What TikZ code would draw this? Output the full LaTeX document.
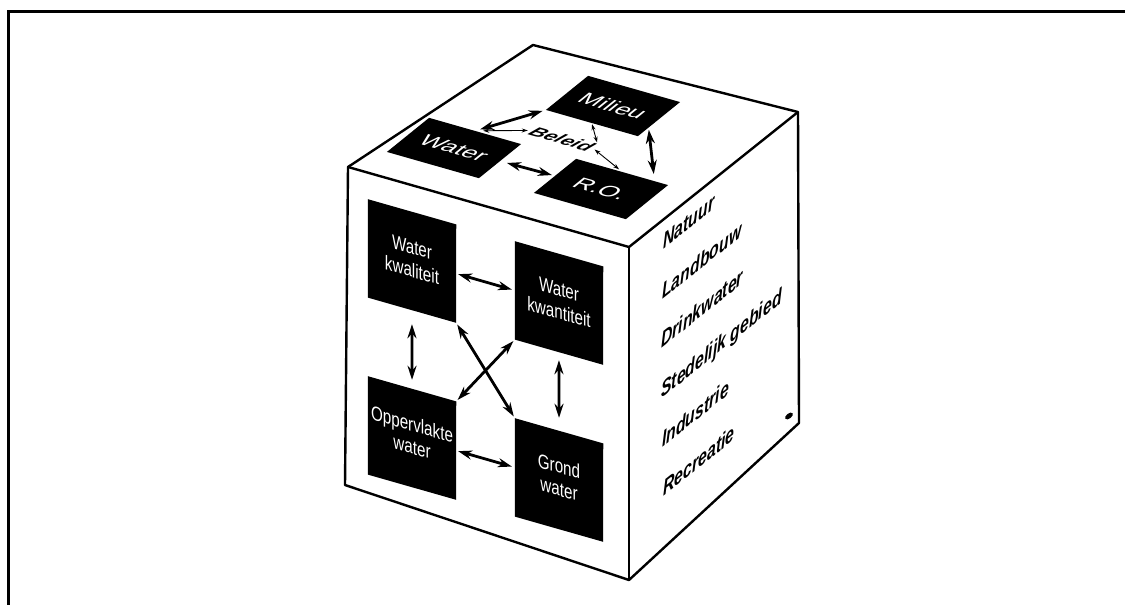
\documentclass[tikz,border=0pt]{standalone}
\usepackage{fontspec}
\setmainfont{Liberation Sans}
\newfontfamily\narrowfont[FakeStretch=0.76]{Liberation Sans}
\newfontfamily\labelfont[FakeStretch=0.72]{Liberation Sans Bold Italic}
\usetikzlibrary{arrows.meta,calc,backgrounds}

\newcommand{\twolines}[2]{\begin{tabular}{@{}c@{}}#1\\#2\end{tabular}}

\begin{document}
\begin{tikzpicture}[
		x=1pt, y=-1pt,
		>={Stealth[length=14pt,width=9pt]},
		edge/.style={line width=2.4pt, line join=round},
		facebox/.style={
			text=white,
			minimum width=88pt, minimum height=98pt,
			inner sep=0pt,
			cm={1,-0.285,0.001,1,(0,0)},
			font=\narrowfont\fontsize{20}{23}\selectfont
		},
		topbox/.style={
			fill=black, text=white,
			minimum width=92pt, minimum height=62pt,
			inner sep=0pt,
			cm={1,-0.285,0.68,0.55,(0,0)},
			font=\fontsize{24}{26}\selectfont
		},
		sidelabel/.style={
			anchor=base west, inner sep=0pt,
			cm={1,0.8,0,1,(0,0)},
			font=\labelfont\fontsize{22}{24}\selectfont
		},
		link/.style={<->, line width=2.8pt},
		thinlink/.style={<->, line width=0.9pt, >={Stealth[length=6pt,width=4pt]}}
		]
		
		\useasboundingbox (0,0) rectangle (1125,605);
		
		% Frame
		\draw[line width=3pt] (8,605) -- (8,11) -- (1125,11);
		
		% Cube
		\coordinate (lt) at (348,167);
		\coordinate (bt) at (533,45);
		\coordinate (rt) at (798,112);
		\coordinate (ft) at (629,247);
		\coordinate (lb) at (345,485);
		\coordinate (fb) at (629,580);
		\coordinate (rb) at (799,423);
		\draw[edge] (lt) -- (bt) -- (rt) -- (rb) -- (fb) -- (lb) -- cycle;
		\draw[edge] (lt) -- (ft) -- (rt);
		\draw[edge] (ft) -- (fb);
		\fill[rotate around={38:(789,416)}] (789,416) ellipse (4.5 and 2.5);
		
		% Front face
		\node[facebox] (wqual) at (412,261) {\twolines{Water}{kwaliteit}};
		\node[facebox] (wquan) at (559,303) {\twolines{Water}{kwantiteit}};
		\node[facebox] (opw) at (412,438) {\twolines{Oppervlakte}{water}};
		\node[facebox] (grw) at (559,480) {\twolines{Grond}{water}};
		\begin{scope}[on background layer]
			\foreach \b in {wqual,wquan,opw,grw}
			\fill (\b.north west) -- (\b.north east) -- (\b.south east) -- (\b.south west) -- cycle;
		\end{scope}
		
		\draw[link, shorten <=2pt, shorten >=3pt] (wqual.east) -- (wquan.west);
		\draw[link, shorten <=2pt, shorten >=3pt] (opw.east) -- (grw.west);
		\draw[link, shorten <=14pt, shorten >=9pt] (wqual.south) -- (opw.north);
		\draw[link, shorten <=8pt, shorten >=13pt] (wquan.south) -- (grw.north);
		\draw[link, shorten <=2pt, shorten >=2pt] (wqual.south east) -- (grw.north west);
		\draw[link, shorten <=2pt, shorten >=2pt] (wquan.south west) -- (opw.north east);
		
		% Top face
		\node[topbox] (water) at (454,148) {Water};
		\node[topbox] (milieu) at (613,106) {Milieu};
		\node[topbox] (ro) at (601,189) {R.O.};
		\node[inner sep=0pt, cm={1,-0.285,0.68,0.55,(0,0)},
		font=\bfseries\itshape\fontsize{20}{22}\selectfont] (beleid) at (562,139) {Beleid};
		
		\draw[link, shorten <=5pt, shorten >=3pt] (water.north) -- (milieu.south west);
		\draw[link, shorten <=7pt, shorten >=3pt] (water.east) -- (ro.west);
		\draw[link, shorten <=2pt, shorten >=7pt] ($(milieu.east)!0.5!(milieu.south east)$) -- ($(ro.north)!0.7!(ro.north east)$);
		\draw[thinlink, shorten <=8pt, shorten >=4pt] (water.north) -- (beleid.west);
		\draw[thinlink, shorten <=3pt, shorten >=4pt] (beleid.east) -- (ro.north);
		\draw[thinlink, shorten <=1pt, shorten >=1pt] (beleid.north east) -- (milieu.south);
		
		% Right face
		\node[sidelabel] (nat) at (663,250) {Natuur};
		\node[sidelabel] (land) at (662,300) {Landbouw};
		\node[sidelabel] (drink) at (661,349) {Drinkwater};
		\node[sidelabel] (sted) at (661,399) {Stedelijk gebied};
		\node[sidelabel] (ind) at (662,448) {Industrie};
		\node[sidelabel] (rec) at (663,497) {Recreatie};
		
	\end{tikzpicture}
\end{document}
